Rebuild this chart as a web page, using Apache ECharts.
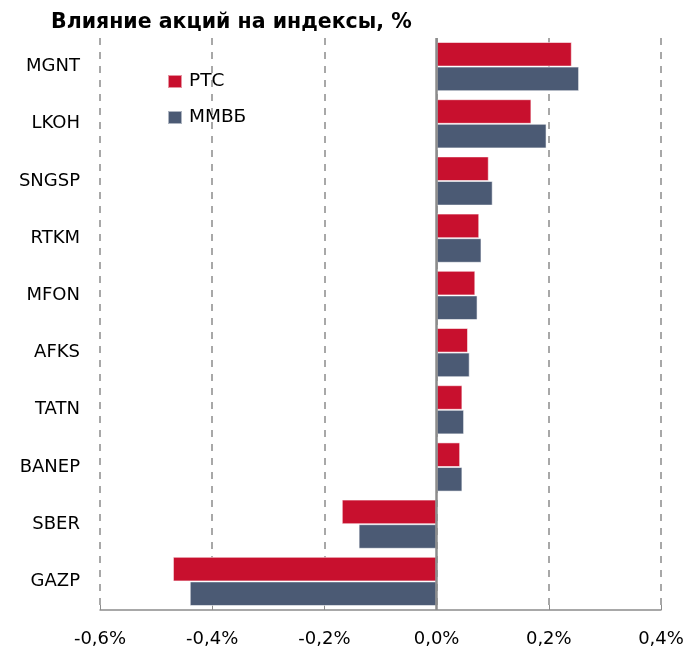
<!DOCTYPE html>
<html>
<head>
<meta charset="utf-8">
<script src="https://cdn.jsdelivr.net/npm/echarts@6/dist/echarts.min.js"></script>
<style>
  html, body { margin: 0; padding: 0; background: #fff; }
  #chart { width: 692px; height: 651px; }
</style>
</head>
<body>
<div id="chart"></div>
<script>
// тикеры сверху вниз
var tickers = ["MGNT", "LKOH", "SNGSP", "RTKM", "MFON", "AFKS", "TATN", "BANEP", "SBER", "GAZP"];
var rtsValues = [0.241, 0.169, 0.093, 0.076, 0.069, 0.056, 0.046, 0.042, -0.169, -0.470];
var micexValues = [0.254, 0.196, 0.100, 0.080, 0.073, 0.059, 0.049, 0.046, -0.139, -0.440];
var seriesNames = ["РТС", "ММВБ"];

var font = "DejaVu Sans";
var chart = echarts.init(document.getElementById("chart"));

chart.setOption({
  animation: false,
  title: {
    text: "Влияние акций на индексы, %",
    left: 51,
    top: 12,
    padding: 0,
    textStyle: { fontFamily: font, fontSize: 20.5, fontWeight: "bold", color: "#000" }
  },
  legend: {
    orient: "vertical",
    left: 167,
    top: 72,
    padding: 0,
    icon: "rect",
    itemWidth: 14,
    itemHeight: 13,
    itemGap: 17,
    data: seriesNames,
    textStyle: { fontFamily: font, fontSize: 18.5, color: "#000", padding: [0, 0, 0, 2] }
  },
  grid: { left: 100, right: 31, top: 38, bottom: 41, containLabel: false },
  xAxis: {
    type: "value",
    min: -0.6,
    max: 0.4,
    interval: 0.2,
    axisLine: { show: true, lineStyle: { color: "#8c8c8c", width: 1.5 } },
    axisTick: { show: true, inside: true, length: 5, lineStyle: { color: "#8c8c8c" } },
    axisLabel: {
      margin: 20,
      fontFamily: font,
      fontSize: 18,
      color: "#000",
      formatter: function (v) { return v.toFixed(1).replace(".", ",") + "%"; }
    },
    splitLine: { show: true, lineStyle: { color: "#8c8c8c", width: 1.5, type: [7, 7] } }
  },
  yAxis: {
    type: "category",
    data: tickers,
    inverse: true,
    axisLine: { show: false },
    axisTick: { show: false },
    axisLabel: { margin: 20, fontFamily: font, fontSize: 18, color: "#000" }
  },
  series: [
    {
      name: seriesNames[0],
      type: "bar",
      data: rtsValues,
      barGap: "0%",
      barCategoryGap: "14%",
      itemStyle: { color: "#c8102e", borderColor: "rgba(255,255,255,0.55)", borderWidth: 1 },
      markLine: {
        silent: true,
        symbol: "none",
        label: { show: false },
        lineStyle: { color: "#8c8c8c", width: 2.5, type: "solid" },
        data: [{ xAxis: 0 }]
      }
    },
    {
      name: seriesNames[1],
      type: "bar",
      data: micexValues,
      itemStyle: { color: "#4b5a74", borderColor: "rgba(255,255,255,0.55)", borderWidth: 1 }
    }
  ]
});
</script>
</body>
</html>
